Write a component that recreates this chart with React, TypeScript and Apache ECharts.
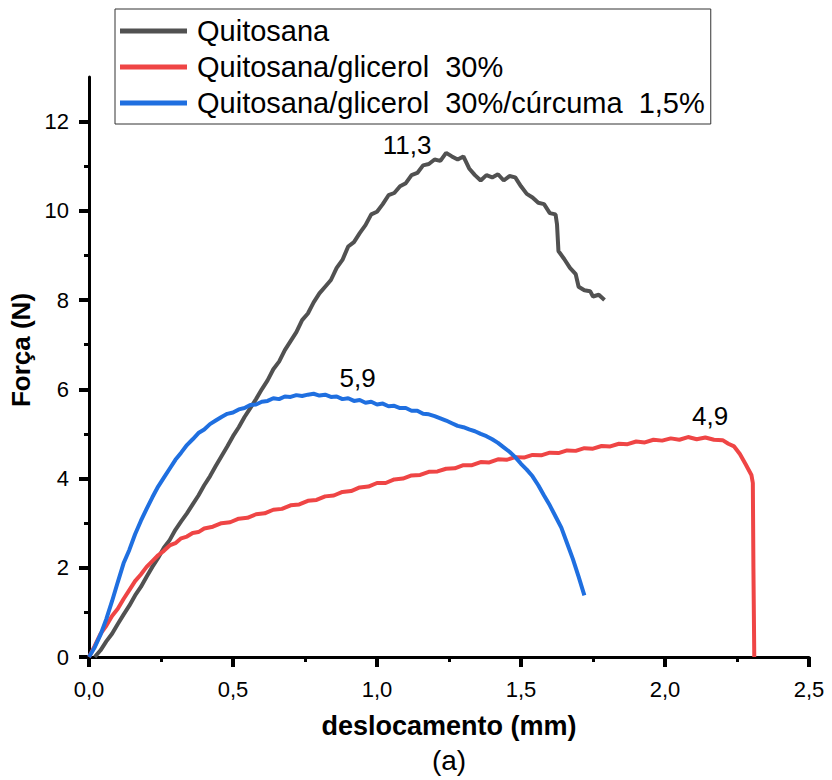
import React, { useEffect, useRef } from "react";
import * as echarts from "echarts";

const seriesNames = [
  "Quitosana",
  "Quitosana/glicerol  30%",
  "Quitosana/glicerol  30%/cúrcuma  1,5%",
];
const seriesColors = ["#515151", "#ef4545", "#1f6fe0"];

const quitosana: [number, number][] = [
  [0.02, 0.0], [0.04, 0.15], [0.06, 0.35], [0.08, 0.52], [0.1, 0.74], [0.12, 0.95], [0.14, 1.15],
  [0.16, 1.38], [0.18, 1.57], [0.2, 1.8], [0.22, 2.02], [0.24, 2.22], [0.26, 2.45], [0.28, 2.62],
  [0.3, 2.85], [0.32, 3.04], [0.34, 3.22], [0.36, 3.42], [0.38, 3.62], [0.4, 3.85], [0.42, 4.05],
  [0.44, 4.28], [0.46, 4.5], [0.48, 4.72], [0.5, 4.95], [0.52, 5.15], [0.54, 5.38], [0.56, 5.58],
  [0.58, 5.78], [0.6, 6.0], [0.62, 6.2], [0.64, 6.45], [0.66, 6.62], [0.68, 6.88], [0.7, 7.08],
  [0.72, 7.28], [0.74, 7.55], [0.76, 7.7], [0.78, 7.95], [0.8, 8.15], [0.82, 8.3], [0.84, 8.45],
  [0.86, 8.72], [0.88, 8.9], [0.9, 9.2], [0.92, 9.3], [0.94, 9.5], [0.96, 9.68], [0.98, 9.92],
  [1.0, 9.98], [1.02, 10.15], [1.04, 10.35], [1.06, 10.4], [1.08, 10.55], [1.1, 10.62], [1.12, 10.8],
  [1.14, 10.85], [1.16, 11.02], [1.18, 11.05], [1.2, 11.15], [1.22, 11.12], [1.24, 11.3], [1.26, 11.22],
  [1.28, 11.15], [1.3, 11.22], [1.32, 10.95], [1.34, 10.8], [1.36, 10.68], [1.38, 10.8], [1.4, 10.75],
  [1.42, 10.82], [1.44, 10.68], [1.46, 10.78], [1.48, 10.75], [1.5, 10.55], [1.52, 10.38], [1.54, 10.3],
  [1.56, 10.18], [1.58, 10.15], [1.6, 9.95], [1.62, 9.92], [1.625, 9.7], [1.63, 9.1], [1.65, 8.92],
  [1.67, 8.72], [1.69, 8.58], [1.7, 8.3], [1.72, 8.22], [1.74, 8.2], [1.75, 8.08], [1.77, 8.12],
  [1.79, 8.0],
];

const glicerol: [number, number][] = [
  [0.0, 0.0], [0.02, 0.25], [0.04, 0.52], [0.06, 0.7], [0.08, 0.92], [0.1, 1.08], [0.12, 1.3],
  [0.14, 1.5], [0.16, 1.7], [0.18, 1.85], [0.2, 2.02], [0.22, 2.15], [0.24, 2.28], [0.26, 2.38],
  [0.28, 2.5], [0.3, 2.55], [0.32, 2.66], [0.34, 2.7], [0.36, 2.78], [0.38, 2.8], [0.4, 2.88],
  [0.43, 2.92], [0.46, 3.0], [0.49, 3.02], [0.52, 3.1], [0.55, 3.12], [0.58, 3.2], [0.61, 3.22],
  [0.64, 3.3], [0.67, 3.32], [0.7, 3.4], [0.73, 3.42], [0.76, 3.5], [0.79, 3.52], [0.82, 3.6],
  [0.85, 3.62], [0.88, 3.7], [0.91, 3.72], [0.94, 3.8], [0.97, 3.82], [1.0, 3.9], [1.03, 3.9],
  [1.06, 3.98], [1.09, 4.0], [1.12, 4.07], [1.15, 4.08], [1.18, 4.15], [1.21, 4.16], [1.24, 4.22],
  [1.27, 4.23], [1.3, 4.3], [1.33, 4.3], [1.36, 4.37], [1.39, 4.36], [1.42, 4.43], [1.45, 4.42],
  [1.48, 4.48], [1.51, 4.47], [1.54, 4.53], [1.57, 4.52], [1.6, 4.58], [1.63, 4.57], [1.66, 4.63],
  [1.69, 4.62], [1.72, 4.68], [1.75, 4.67], [1.78, 4.73], [1.81, 4.72], [1.84, 4.78], [1.87, 4.77],
  [1.9, 4.83], [1.93, 4.81], [1.96, 4.87], [1.99, 4.85], [2.02, 4.9], [2.05, 4.87], [2.08, 4.93],
  [2.11, 4.88], [2.14, 4.92], [2.17, 4.87], [2.2, 4.86], [2.22, 4.78], [2.24, 4.72], [2.26, 4.55],
  [2.28, 4.32], [2.3, 4.08], [2.305, 3.9], [2.307, 2.0], [2.31, 0.0],
];

const curcuma: [number, number][] = [
  [0.0, 0.0], [0.02, 0.22], [0.04, 0.5], [0.06, 0.85], [0.08, 1.25], [0.1, 1.68], [0.12, 2.1],
  [0.14, 2.4], [0.16, 2.75], [0.18, 3.05], [0.2, 3.32], [0.22, 3.58], [0.24, 3.82], [0.26, 4.02],
  [0.28, 4.22], [0.3, 4.42], [0.32, 4.58], [0.34, 4.75], [0.36, 4.88], [0.38, 5.02], [0.4, 5.1],
  [0.42, 5.22], [0.44, 5.3], [0.46, 5.38], [0.48, 5.45], [0.5, 5.48], [0.52, 5.55], [0.54, 5.58],
  [0.56, 5.65], [0.58, 5.66], [0.6, 5.72], [0.62, 5.74], [0.64, 5.8], [0.66, 5.78], [0.68, 5.84],
  [0.7, 5.83], [0.72, 5.87], [0.74, 5.85], [0.76, 5.88], [0.78, 5.9], [0.8, 5.86], [0.82, 5.88],
  [0.84, 5.83], [0.86, 5.84], [0.88, 5.78], [0.9, 5.8], [0.92, 5.74], [0.94, 5.76], [0.96, 5.7],
  [0.98, 5.72], [1.0, 5.66], [1.02, 5.68], [1.04, 5.62], [1.06, 5.63], [1.08, 5.58], [1.1, 5.58],
  [1.12, 5.52], [1.14, 5.52], [1.16, 5.45], [1.18, 5.44], [1.2, 5.4], [1.22, 5.35], [1.24, 5.3],
  [1.26, 5.24], [1.28, 5.18], [1.3, 5.15], [1.32, 5.1], [1.34, 5.06], [1.36, 5.0], [1.38, 4.95],
  [1.4, 4.88], [1.42, 4.8], [1.44, 4.7], [1.46, 4.6], [1.48, 4.48], [1.5, 4.33], [1.52, 4.2],
  [1.54, 4.05], [1.56, 3.85], [1.58, 3.62], [1.6, 3.4], [1.62, 3.15], [1.64, 2.9], [1.66, 2.55],
  [1.68, 2.2], [1.7, 1.8], [1.72, 1.38],
];

const yTickValues = [0, 2, 4, 6, 8, 10, 12];
const xAxisTitle = "deslocamento (mm)";
const yAxisTitle = "Força (N)";
const panelLabel = "(a)";

const FONT = 'Arial, "Liberation Sans", Helvetica, sans-serif';
const fmt = (v: number) => v.toFixed(1).replace(".", ",");

export default function App() {
  const ref = useRef<HTMLDivElement>(null);
  useEffect(() => {
    const chart = echarts.init(ref.current!, null, { renderer: "svg" });
    const datasets = [quitosana, glicerol, curcuma];
    const peakOffsets = [
      [-39, -8],
      [22, -21],
      [44, -16],
    ];
    const axisLineStyle = () => ({ color: "#000", width: 3 });
    chart.setOption({
      animation: false,
      backgroundColor: "#ffffff",
      textStyle: { fontFamily: FONT, color: "#000" },
      grid: {
        left: 89,
        right: 23,
        top: 77,
        bottom: 123,
        containLabel: false,
        outerBoundsMode: "none",
      },
      legend: {
        orient: "vertical",
        left: 115,
        top: 9,
        icon: "rect",
        itemWidth: 67,
        itemHeight: 5,
        itemGap: 6,
        padding: [7, 6, 6, 5],
        borderColor: "#333",
        borderWidth: 1,
        backgroundColor: "#fff",
        textStyle: {
          fontSize: 29,
          lineHeight: 30,
          fontFamily: FONT,
          color: "#000",
          padding: [0, 0, 0, 5],
        },
        data: seriesNames,
      },
      xAxis: {
        type: "value",
        min: 0,
        max: 2.5,
        interval: 0.5,
        name: xAxisTitle,
        nameLocation: "middle",
        nameGap: 55,
        nameTextStyle: { fontSize: 27, fontWeight: "bold", fontFamily: FONT, color: "#000" },
        axisLine: { show: true, onZero: false, lineStyle: axisLineStyle() },
        axisTick: { show: true, inside: false, length: 10, lineStyle: { color: "#000", width: 4 } },
        minorTick: { show: true, splitNumber: 2, length: 5, lineStyle: axisLineStyle() },
        axisLabel: { fontSize: 22, margin: 21, color: "#000", fontFamily: FONT, formatter: fmt },
        splitLine: { show: false },
        minorSplitLine: { show: false },
      },
      yAxis: {
        type: "value",
        min: 0,
        max: 13,
        interval: 2,
        name: yAxisTitle,
        nameLocation: "middle",
        nameGap: 48,
        nameTextStyle: {
          fontSize: 26,
          fontWeight: "bold",
          fontFamily: FONT,
          color: "#000",
          padding: [0, 0, 0, 34],
        },
        axisLine: { show: true, onZero: false, lineStyle: axisLineStyle() },
        axisTick: {
          show: true,
          inside: false,
          length: 10,
          lineStyle: { color: "#000", width: 4 },
          customValues: yTickValues,
        },
        minorTick: { show: true, splitNumber: 2, length: 5, lineStyle: axisLineStyle() },
        axisLabel: {
          fontSize: 22,
          margin: 20,
          color: "#000",
          fontFamily: FONT,
          customValues: yTickValues,
          formatter: (v: number) => (yTickValues.indexOf(v) >= 0 ? String(v) : ""),
        },
        splitLine: { show: false },
        minorSplitLine: { show: false },
      },
      graphic: [
        {
          type: "text",
          x: 449,
          y: 760,
          style: {
            text: panelLabel,
            fontSize: 28,
            fontFamily: FONT,
            fill: "#000",
            textAlign: "center",
            textVerticalAlign: "middle",
          },
        },
      ],
      series: datasets.map((d, i) => ({
        name: seriesNames[i],
        type: "line",
        data: d,
        symbol: "none",
        showSymbol: false,
        z: 2 + i,
        lineStyle: { width: 4, color: seriesColors[i] },
        itemStyle: { color: seriesColors[i] },
        markPoint: {
          symbol: "circle",
          symbolSize: 1,
          itemStyle: { color: "rgba(0,0,0,0)" },
          label: {
            show: true,
            position: "inside",
            offset: peakOffsets[i],
            fontSize: 26,
            fontFamily: FONT,
            color: "#000",
            formatter: (p: any) => fmt(Number(p.value)),
          },
          data: [{ type: "max", valueDim: "y" }],
        },
      })),
    });
    return () => chart.dispose();
  }, []);
  return (
    <div
      ref={ref}
      style={{ position: "fixed", left: 0, top: 0, width: 832, height: 780, background: "#fff" }}
    />
  );
}
